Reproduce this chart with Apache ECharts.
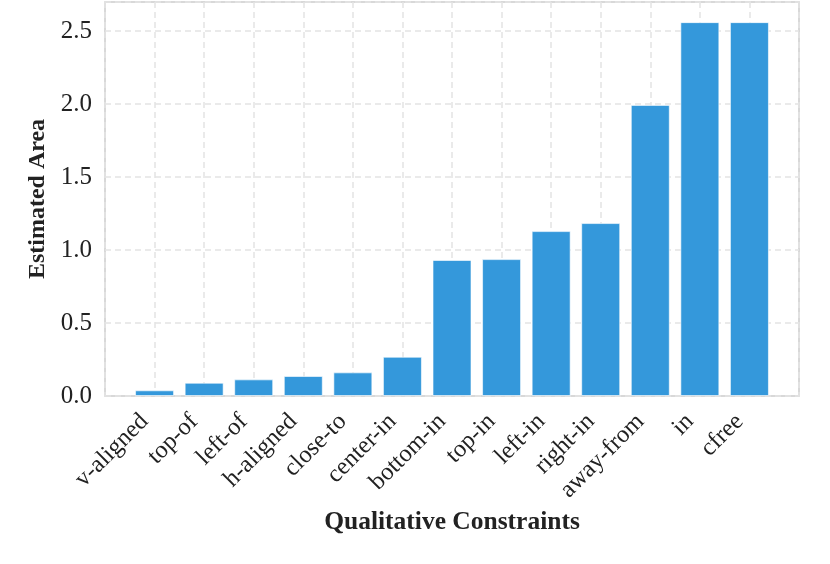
<!DOCTYPE html>
<html>
<head>
<meta charset="utf-8">
<script src="https://cdn.jsdelivr.net/npm/echarts@6/dist/echarts.min.js"></script>
<style>html,body{margin:0;padding:0;background:#fff}#c{width:830px;height:564px}</style>
</head>
<body>
<div id="c"></div>
<script>
const categories = ['v-aligned','top-of','left-of','h-aligned','close-to','center-in','bottom-in','top-in','left-in','right-in','away-from','in','cfree'];
const values = [0.039, 0.091, 0.114, 0.137, 0.162, 0.269, 0.932, 0.938, 1.13, 1.185, 1.995, 2.562, 2.562];
const yTicks = [0, 0.5, 1.0, 1.5, 2.0, 2.5];

const chart = echarts.init(document.getElementById('c'), null, {renderer: 'canvas'});
const font = 'Liberation Serif';
chart.setOption({
  animation: false,
  backgroundColor: '#fff',
  grid: {left: 105, right: 31, top: 2, bottom: 168, show: true, borderColor: '#cccccc', borderWidth: 1.5, containLabel: false},
  xAxis: {
    type: 'value', min: -1, max: 13, interval: 1,
    name: 'Qualitative Constraints', nameLocation: 'middle', nameGap: 108,
    nameTextStyle: {fontFamily: font, fontWeight: 'bold', fontSize: 25.5, color: '#222'},
    axisLine: {show: false}, axisTick: {show: false},
    axisLabel: {
      rotate: 45, fontFamily: font, fontSize: 24.5, color: '#222', margin: 12,
      padding: [0, 14, 0, 0],
      formatter: v => (v >= 0 && v < categories.length) ? categories[v] : ''
    },
    splitLine: {show: true, lineStyle: {color: '#e3e3e3', width: 1.5, type: [6, 4]}}
  },
  yAxis: {
    type: 'value', min: 0, max: 2.7, interval: 0.5,
    name: 'Estimated Area', nameLocation: 'middle', nameGap: 49, nameRotate: 90,
    nameTextStyle: {fontFamily: font, fontWeight: 'bold', fontSize: 24, color: '#222'},
    axisLine: {show: false}, axisTick: {show: false},
    axisLabel: {
      fontFamily: font, fontSize: 25, color: '#222', margin: 13, showMaxLabel: false,
      formatter: v => yTicks.some(t => Math.abs(t - v) < 1e-6) ? v.toFixed(1) : ''
    },
    splitLine: {show: true, lineStyle: {color: '#e3e3e3', width: 1.5, type: [6, 4]}}
  },
  series: [{
    type: 'bar',
    barWidth: 39,
    data: values.map((v, i) => [i, v]),
    itemStyle: {color: '#3498db', borderColor: 'rgba(255,255,255,0.6)', borderWidth: 1}
  }]
});
</script>
</body>
</html>
